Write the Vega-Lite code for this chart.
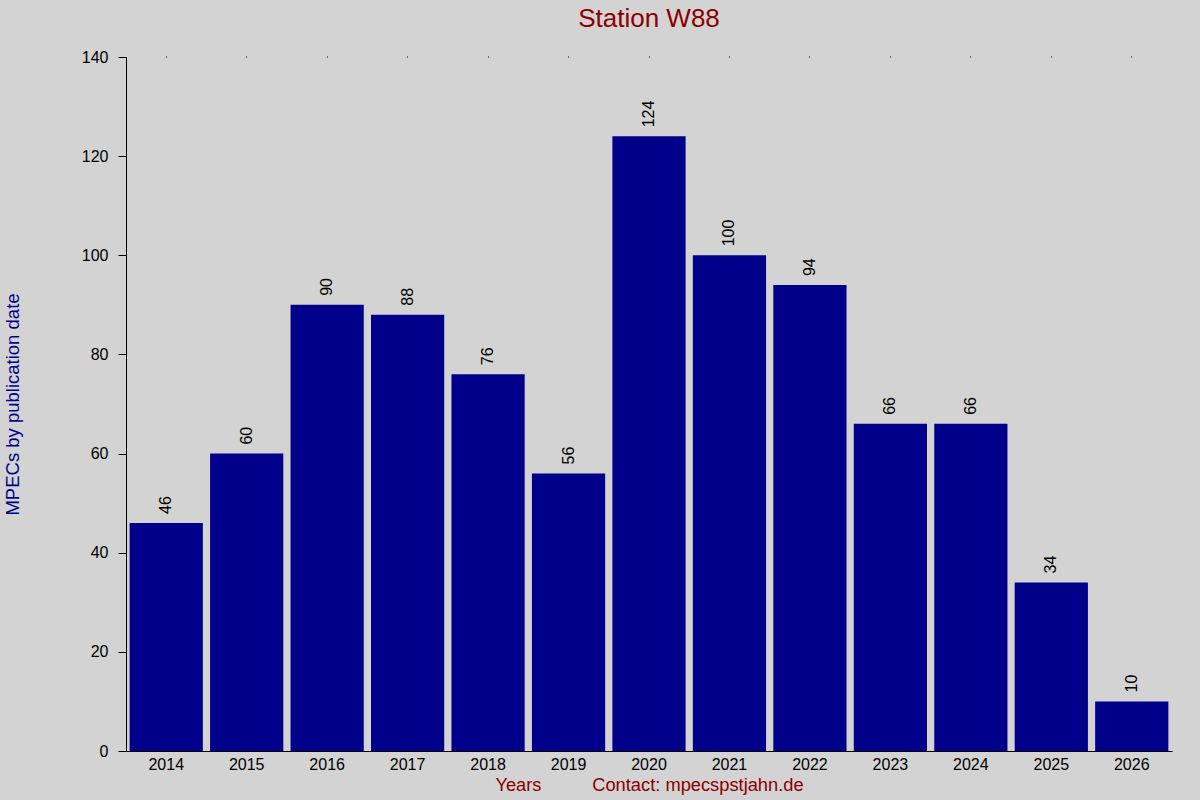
{
  "$schema": "https://vega.github.io/schema/vega-lite/v6.json",
  "width": 1046,
  "height": 694,
  "autosize": {"type": "none"},
  "padding": {"left": 126, "top": 57, "right": 28, "bottom": 49},
  "background": "#d3d3d3",
  "title": {
    "text": "Station W88",
    "color": "#8b0000",
    "font": "Liberation Sans",
    "fontSize": 26,
    "fontWeight": "normal",
    "anchor": "middle",
    "offset": 17
  },
  "config": {
    "view": {"stroke": null},
    "axis": {"labelFont": "Liberation Sans", "titleFont": "Liberation Sans", "grid": false, "domainColor": "black", "tickColor": "black", "labelColor": "black"}
  },
  "data": {
    "values": [
      {"year": "2014", "mpecs": 46},
      {"year": "2015", "mpecs": 60},
      {"year": "2016", "mpecs": 90},
      {"year": "2017", "mpecs": 88},
      {"year": "2018", "mpecs": 76},
      {"year": "2019", "mpecs": 56},
      {"year": "2020", "mpecs": 124},
      {"year": "2021", "mpecs": 100},
      {"year": "2022", "mpecs": 94},
      {"year": "2023", "mpecs": 66},
      {"year": "2024", "mpecs": 66},
      {"year": "2025", "mpecs": 34},
      {"year": "2026", "mpecs": 10}
    ]
  },
  "encoding": {
    "x": {
      "field": "year",
      "type": "ordinal",
      "scale": {"paddingInner": 0.09, "paddingOuter": 0.045}
    },
    "y": {
      "field": "mpecs",
      "type": "quantitative",
      "scale": {"domain": [0, 140], "nice": false},
      "axis": {
        "values": [0, 20, 40, 60, 80, 100, 120, 140],
        "tickSize": 8,
        "labelPadding": 10,
        "labelFontSize": 16,
        "title": "MPECs by publication date",
        "titleColor": "#00008b",
        "titleFontSize": 18.5,
        "titleFontWeight": "normal",
        "titleAngle": -90,
        "titleX": -114,
        "titleY": 347,
        "titleAlign": "center",
        "titleBaseline": "middle"
      }
    }
  },
  "layer": [
    {
      "mark": {"type": "bar", "color": "#00008b"},
      "encoding": {
        "x": {
          "field": "year",
          "type": "ordinal",
          "axis": {
            "orient": "bottom",
            "labelAngle": 0,
            "ticks": false,
            "labelPadding": 5,
            "labelFontSize": 16,
            "title": "Years\u00a0\u00a0\u00a0\u00a0\u00a0\u00a0\u00a0\u00a0\u00a0\u00a0Contact: mpecspstjahn.de",
            "titleColor": "#8b0000",
            "titleFontSize": 18.3,
            "titleFontWeight": "normal",
            "titlePadding": 4
          }
        }
      }
    },
    {
      "mark": {
        "type": "text",
        "angle": 270,
        "align": "left",
        "baseline": "middle",
        "dx": 9,
        "font": "Liberation Sans",
        "fontSize": 16,
        "color": "black"
      },
      "encoding": {
        "x": {
          "field": "year",
          "type": "ordinal",
          "axis": {
            "orient": "top",
            "labels": false,
            "domain": false,
            "tickSize": 1,
            "title": null
          }
        },
        "text": {"field": "mpecs", "type": "quantitative"}
      }
    }
  ],
  "resolve": {"axis": {"x": "independent"}}
}
